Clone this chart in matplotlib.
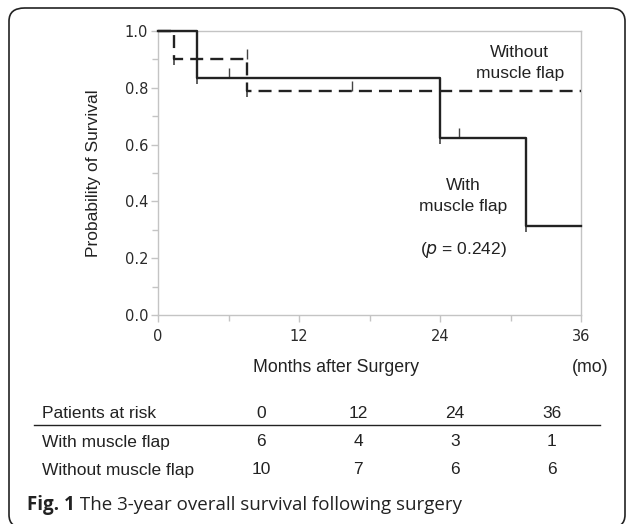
import matplotlib
matplotlib.use("Agg")
import matplotlib.pyplot as plt
from matplotlib.patches import FancyBboxPatch
from matplotlib.ticker import MultipleLocator, FormatStrFormatter

# Kaplan-Meier steps
with_times = [0, 3.3, 24, 31.3, 36]
with_surv = [1.0, 0.833, 0.625, 0.3125, 0.3125]
with_censor_t = [6, 25.6]
with_censor_s = [0.833, 0.625]

without_times = [0, 1.35, 7.6, 36]
without_surv = [1.0, 0.9, 0.7875, 0.7875]
without_censor_t = [7.6, 16.5]
without_censor_s = [0.9, 0.7875]

# patients at risk table
risk_months = ["0", "12", "24", "36"]
risk_with = ["6", "4", "3", "1"]
risk_without = ["10", "7", "6", "6"]

SANS = "Liberation Sans"
TXT = "#222222"
AX_GRAY = "#c4c4c4"
W, H = 627, 524

fig = plt.figure(figsize=(W / 100, H / 100), dpi=100)

# rounded frame (bottom edge falls just outside the picture)
frame = FancyBboxPatch((9 / W, -4 / H), 616 / W, (H - 8 + 4) / H,
                       boxstyle="round,pad=0,rounding_size=0.025",
                       transform=fig.transFigure, fill=False,
                       edgecolor="#222222", linewidth=1.2, clip_on=False)
fig.patches.append(frame)

ax = fig.add_axes([158 / W, 1 - 315 / H, 423 / W, 284 / H])
ax.set_xlim(0, 36)
ax.set_ylim(0, 1)

censor_up = [(0, 0), (0, 1)]
event_down = [(0, 0), (0, -1)]

ax.step(with_times, with_surv, where="post", color="#222222", lw=1.7,
        clip_on=False, zorder=3)
ax.plot(with_censor_t, with_censor_s, ls="none", marker=censor_up,
        markersize=14, markeredgewidth=1.0, color="#444444", clip_on=False)
ax.plot(with_times[1:-1], with_surv[1:-1], ls="none", marker=event_down,
        markersize=8, markeredgewidth=1.2, color="#444444", clip_on=False)

line, = ax.step(without_times, without_surv, where="post", color="#222222",
                lw=1.7, clip_on=False, zorder=3)
line.set_dashes((5.5, 3.0))
ax.plot(without_censor_t, without_censor_s, ls="none", marker=censor_up,
        markersize=14, markeredgewidth=1.0, color="#444444", clip_on=False)
ax.plot(without_times[1:-1], without_surv[1:-1], ls="none", marker=event_down,
        markersize=8, markeredgewidth=1.2, color="#444444", clip_on=False)

for side in ["top", "right", "left", "bottom"]:
    ax.spines[side].set_color(AX_GRAY)
    ax.spines[side].set_linewidth(1.0)

ax.xaxis.set_major_locator(MultipleLocator(12))
ax.xaxis.set_minor_locator(MultipleLocator(6))
ax.yaxis.set_major_locator(MultipleLocator(0.2))
ax.yaxis.set_minor_locator(MultipleLocator(0.1))
ax.yaxis.set_major_formatter(FormatStrFormatter("%.1f"))
ax.tick_params(which="both", direction="out", color=AX_GRAY, labelcolor="#2a2a2a",
               labelsize=10.5)
ax.tick_params(which="major", length=5, width=1)
ax.tick_params(which="minor", length=4, width=1)
ax.tick_params(axis="y", pad=2)
ax.tick_params(axis="x", pad=5)

ax.set_ylabel("Probability of Survival", fontsize=12.5, family=SANS, color=TXT,
              labelpad=17)
ax.text((336 - 158) / 423, -(367 - 315) / 284, "Months after Surgery",
        transform=ax.transAxes, ha="center", va="center", fontsize=12.8,
        family=SANS, color=TXT)
ax.text((590 - 158) / 423, -(367 - 315) / 284, "(mo)", transform=ax.transAxes,
        ha="center", va="center", fontsize=12.8, family=SANS, color=TXT)

ax.text(30.8, 0.887, "Without\nmuscle flap", ha="center", va="center",
        fontsize=12.5, family=SANS, color=TXT, linespacing=1.45)
ax.text(26.0, 0.419, "With\nmuscle flap", ha="center", va="center",
        fontsize=12.5, family=SANS, color=TXT, linespacing=1.45)
ax.text(26.0, 0.229, "($\\it{p}$ = 0.242)", ha="center", va="center",
        fontsize=12.5, family=SANS, color=TXT)

# at-risk table
col_x = [261, 358, 455, 552]
rows = [("Patients at risk", risk_months, 413),
        ("With muscle flap", risk_with, 442),
        ("Without muscle flap", risk_without, 470)]
for label, vals, ypix in rows:
    fig.text(42 / W, 1 - ypix / H, label, ha="left", va="center",
             fontsize=12.5, family=SANS, color=TXT)
    for xp, v in zip(col_x, vals):
        fig.text(xp / W, 1 - ypix / H, v, ha="center", va="center",
                 fontsize=12.5, family=SANS, color=TXT)
fig.add_artist(plt.Line2D([34 / W, 600 / W], [1 - 425 / H] * 2,
                          color="#222222", lw=1.0))

cap = fig.text(27 / W, 1 - 505 / H, "Fig. 1", ha="left", va="center",
               fontsize=13.5, family="Open Sans", weight="bold", color=TXT)
ax.annotate(" The 3-year overall survival following surgery", xy=(1, 0.5),
            xycoords=cap, ha="left", va="center", fontsize=13.5,
            family="Open Sans", color=TXT, annotation_clip=False)

fig.savefig("out.png", dpi=100)
